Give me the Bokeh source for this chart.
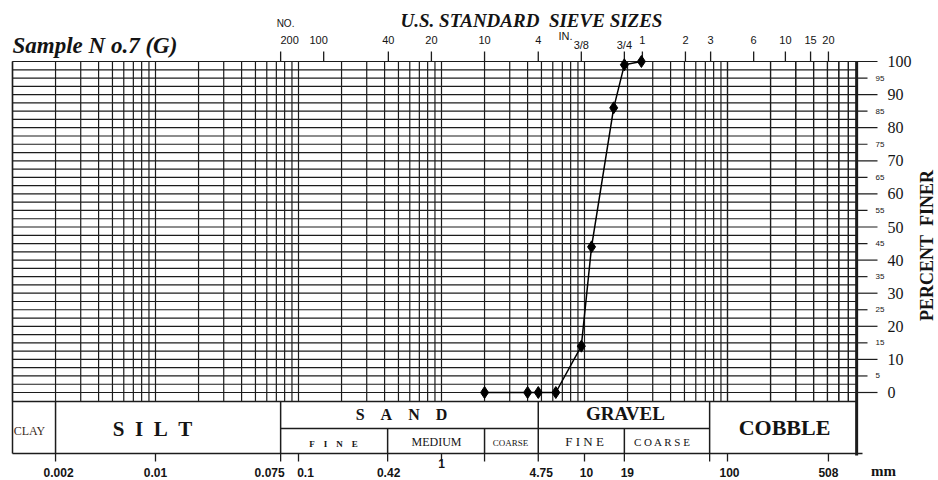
import math
import numpy as np
from bokeh.plotting import figure
from bokeh.models import Range1d
from bokeh.core.properties import value
from bokeh.embed import file_html
from bokeh.resources import INLINE

# ---------------- data ----------------
sieve_mm = [2.0, 4.0, 4.75, 6.3, 9.5, 11.2, 16.0, 19.0, 25.0]
pct_finer = [0, 0, 0, 0, 14, 44, 86, 99, 100]

# US standard sieve sizes (top scale)
top_sieve_mm = [0.075, 0.15, 0.425, 0.85, 2.0, 4.75, 9.5, 19.0, 25.4, 50.8, 76.2, 152.4, 254.0, 381.0, 508.0]
top_sieve_lbl = ["200", "100", "40", "20", "10", "4", "3/8", "3/4", "1", "2", "3", "6", "10", "15", "20"]

# mm scale (bottom)
bottom_mm = [0.002, 0.01, 0.075, 0.1, 0.42, 1, 4.75, 10, 19, 100, 508]
bottom_lbl = ["0.002", "0.01", "0.075", "0.1", "0.42", "1", "4.75", "10", "19", "100", "508"]
bottom_tick_mm = [0.002, 0.01, 0.075, 0.1, 0.42, 1, 2, 4.75, 10, 19, 75, 100, 508]

# percent finer axis
major_pct = [0, 10, 20, 30, 40, 50, 60, 70, 80, 90, 100]
minor_pct = [5, 15, 25, 35, 45, 55, 65, 75, 85, 95]

# classification boundaries (mm)
full_bounds = [0.002, 0.075, 4.75, 75]
sub_bounds = [0.42, 2, 19]

# ---------------- geometry helpers ----------------
W, H = 938, 480
PX_1MM, PX_DEC, PY_0, PY_PCT = 441.0, 143.0, 392.0, 3.31
def mm_at(px):
    return 10 ** ((px - PX_1MM) / PX_DEC)
def pct_at(py):
    return (PY_0 - py) / PY_PCT
def spaced(word, n):
    return ("\u00a0" * n).join(word)

XMIN, XMAX = 0.001, 800.0
LINE = "#1c1c1c"
TXT = "#141414"
SERIF = "Liberation Serif"
SANS = "Liberation Sans"

p = figure(width=W, height=H, x_axis_type="log",
           x_range=Range1d(mm_at(0), mm_at(W)),
           y_range=Range1d(pct_at(H), pct_at(0)),
           x_axis_location=None, y_axis_location=None,
           toolbar_location=None, output_backend="svg",
           min_border=0, outline_line_color=None)
p.grid.visible = False
p.background_fill_color = "white"

# vertical grid lines (1..9 per decade)
grid_mm = [n * 10.0 ** k for k in range(-3, 3) for n in range(1, 10)] + [100.0 * n for n in range(1, 9)]
grid_mm = [g for g in grid_mm if XMIN <= g <= XMAX]
p.segment(x0=grid_mm, x1=grid_mm, y0=[pct_at(401)] * len(grid_mm), y1=[100] * len(grid_mm),
          line_color=LINE, line_width=1.2)

# horizontal grid lines every 2.5 %
hl = list(np.arange(0, 100.01, 2.5))
p.segment(x0=[XMIN] * len(hl), x1=[XMAX] * len(hl), y0=hl, y1=hl, line_color=LINE, line_width=1.2)

# borders
p.segment(x0=[XMIN], x1=[XMIN], y0=[100], y1=[pct_at(453)], line_color=LINE, line_width=1.5)
p.segment(x0=[XMAX], x1=[XMAX], y0=[100], y1=[pct_at(455)], line_color=LINE, line_width=3)

# right ticks
p.segment(x0=[XMAX] * len(major_pct), x1=[mm_at(877)] * len(major_pct), y0=major_pct, y1=major_pct,
          line_color=LINE, line_width=1.2)
p.segment(x0=[XMAX] * len(minor_pct), x1=[mm_at(867)] * len(minor_pct), y0=minor_pct, y1=minor_pct,
          line_color=LINE, line_width=1.2)

# top sieve ticks
p.segment(x0=top_sieve_mm, x1=top_sieve_mm, y0=[100] * len(top_sieve_mm),
          y1=[pct_at(51)] * len(top_sieve_mm), line_color=LINE, line_width=1.3)

# classification table
t_top, t_mid, t_bot = pct_at(401), pct_at(428), pct_at(453)
p.segment(x0=[XMIN], x1=[XMAX], y0=[t_top], y1=[t_top], line_color=LINE, line_width=1.5)
p.segment(x0=[XMIN], x1=[mm_at(862)], y0=[t_bot], y1=[t_bot], line_color=LINE, line_width=1.5)
p.segment(x0=[0.075], x1=[75], y0=[t_mid], y1=[t_mid], line_color=LINE, line_width=1.3)
p.segment(x0=full_bounds, x1=full_bounds, y0=[t_top] * 4, y1=[t_bot] * 4, line_color=LINE, line_width=1.5)
p.segment(x0=sub_bounds, x1=sub_bounds, y0=[t_mid] * 3, y1=[t_bot] * 3, line_color=LINE, line_width=1.5)
# bottom ticks
p.segment(x0=bottom_tick_mm, x1=bottom_tick_mm, y0=[t_bot] * len(bottom_tick_mm),
          y1=[pct_at(461)] * len(bottom_tick_mm), line_color=LINE, line_width=1.3)

# data
p.line(sieve_mm, pct_finer, line_color="black", line_width=1.5)
p.scatter(sieve_mm, pct_finer, marker="diamond", size=12, fill_color="black", line_color="black")

# ---------------- texts ----------------
def txt(xs, ys, texts, size, font=SERIF, style="normal", align="center", baseline="middle",
        angle=0, color=TXT, x_offset=0, y_offset=0):
    p.text(x=xs, y=ys, text=texts, text_font=value(font), text_font_size=size,
           text_font_style=style, text_align=align, text_baseline=baseline, angle=angle,
           text_color=color, x_offset=x_offset, y_offset=y_offset)

txt([mm_at(531)], [pct_at(20)], ["U.S. STANDARD\u00a0\u00a0SIEVE SIZES"], "19px", style="bold italic")
txt([mm_at(12)], [pct_at(45)], ["Sample N o.7 (G)"], "23px", style="bold italic", align="left")

# sieve labels
sy = [pct_at(39)] * len(top_sieve_mm)
sy[6] = pct_at(44)
sy[7] = pct_at(44)
sxo = [0] * len(top_sieve_mm)
sxo[0] = 9
sxo[1] = -5
txt(top_sieve_mm, sy, top_sieve_lbl, "11px", font=SANS, x_offset=sxo)
txt([0.075], [pct_at(23)], ["NO."], "10px", font=SANS, align="left", x_offset=-4)
txt([mm_at(565)], [pct_at(35)], ["IN."], "11px", font=SANS)

# bottom mm labels
bxo = [3, 0, -11, 7, 1, 0, 3, 2, 3, 2, 0]
bys = [pct_at(472)] * len(bottom_lbl)
bys[5] = pct_at(463)
txt(bottom_mm, bys, bottom_lbl, "12px", font=SANS, style="bold", x_offset=bxo)
txt([mm_at(883)], [pct_at(470)], ["mm"], "15px", style="bold")

# percent labels
txt([mm_at(887)] * len(major_pct), major_pct, [str(v) for v in major_pct], "16px", align="left")
txt([mm_at(875)] * len(minor_pct), minor_pct, [str(v) for v in minor_pct], "8px", font=SANS, align="left")
txt([mm_at(926)], [pct_at(245)], ["PERCENT\u00a0\u00a0FINER"], "18px", style="bold", angle=math.pi / 2)

# classification texts
txt([mm_at(29)], [pct_at(430)], ["CLAY"], "12px", color="#3a2a1a")
txt([mm_at(152)], [pct_at(428)], [spaced("SILT", 2)], "21px", style="bold")
txt([mm_at(401)], [pct_at(414)], [spaced("SAND", 4)], "16px", style="bold")
txt([mm_at(333)], [pct_at(443)], [spaced("FINE", 4)], "9px", style="bold")
txt([mm_at(436)], [pct_at(441)], ["MEDIUM"], "12px")
txt([mm_at(510)], [pct_at(442)], ["COARSE"], "9px")
txt([mm_at(625)], [pct_at(413)], ["GRAVEL"], "19px", style="bold")
txt([mm_at(584)], [pct_at(441)], ["F I N E"], "13px")
txt([mm_at(662)], [pct_at(441)], ["C O A R S E"], "11px")
txt([mm_at(784)], [pct_at(427)], ["COBBLE"], "22px", style="bold")

open("out.html", "w").write(file_html(p, INLINE))
